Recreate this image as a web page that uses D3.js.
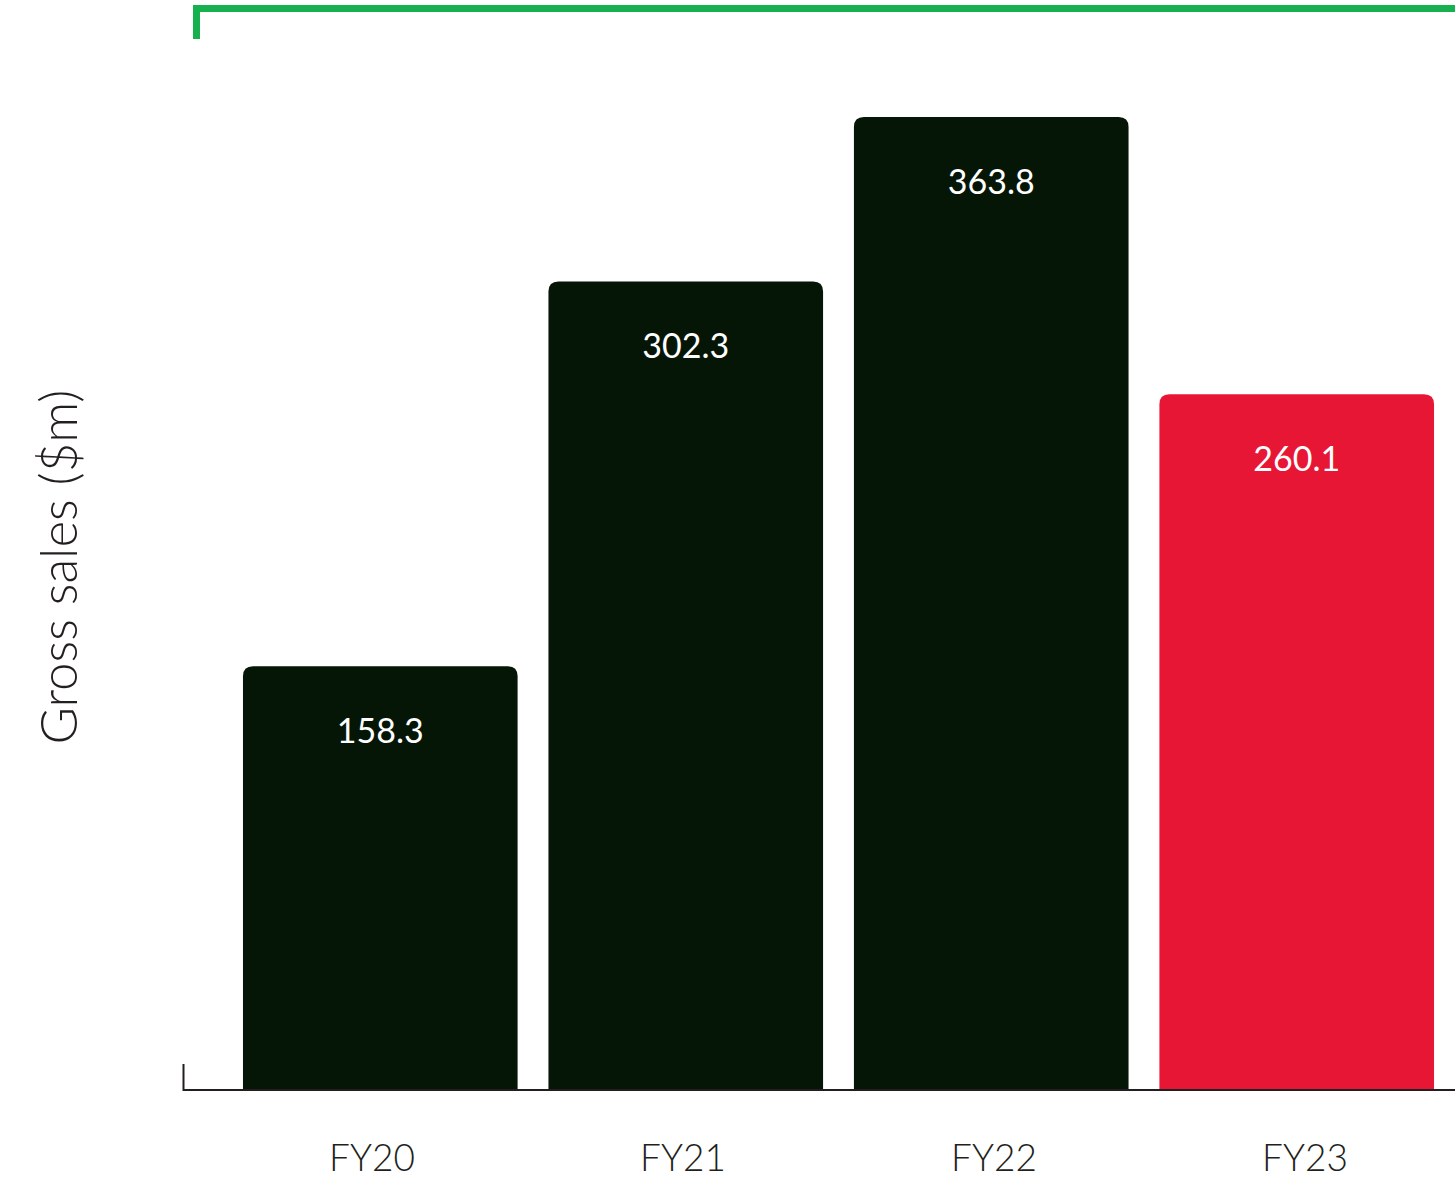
<!DOCTYPE html>
<html>
<head>
<meta charset="utf-8">
<script src="https://cdn.jsdelivr.net/npm/d3@7"></script>
<style>
  html, body { margin: 0; padding: 0; background: #ffffff; }
  svg { display: block; }
  text { font-family: Lato, "Noto Sans", sans-serif; }
</style>
</head>
<body>
<svg id="chart" width="1455" height="1183"></svg>
<script>
// Gross sales by financial year ($m)
const years = ["FY20", "FY21", "FY22", "FY23"];
const sales = [158.3, 302.3, 363.8, 260.1];
const barColors = ["#061606", "#061606", "#061606", "#E81635"];
const yTitle = "Gross sales ($m)";

const baseY = 1089.5;

const svg = d3.select("#chart");

const x = d3.scaleBand()
  .domain(years)
  .range([227.7, 1449.3])
  .paddingInner(0.101)
  .paddingOuter(0.05);

// axis labels sit on a slightly wider spacing than the bars
const xLabel = d3.scalePoint()
  .domain(years)
  .range([372, 1305]);

const y = d3.scaleLinear()
  .domain([0, 400])
  .range([baseY, baseY - 400 * 2.673]);

// green bracket across the top
svg.append("path")
  .attr("d", "M196.5,39 V8.5 H1455")
  .attr("fill", "none")
  .attr("stroke", "#17B04F")
  .attr("stroke-width", 7);

// bars with rounded top corners
const r = 10;
function barPath(x0, w, yTop, yBot) {
  return `M${x0},${yBot} V${yTop + r} Q${x0},${yTop} ${x0 + r},${yTop} H${x0 + w - r} Q${x0 + w},${yTop} ${x0 + w},${yTop + r} V${yBot} Z`;
}

svg.append("g")
  .selectAll("path")
  .data(years)
  .join("path")
  .attr("d", (d, i) => barPath(x(d), x.bandwidth(), y(sales[i]), baseY))
  .attr("fill", (d, i) => barColors[i]);

// value labels inside bars
svg.append("g")
  .selectAll("text")
  .data(years)
  .join("text")
  .attr("x", d => x(d) + x.bandwidth() / 2)
  .attr("y", (d, i) => y(sales[i]) + 77)
  .attr("text-anchor", "middle")
  .attr("fill", "#ffffff")
  .attr("font-size", 34)
  .text((d, i) => sales[i].toFixed(1));

// baseline with short left tick
svg.append("path")
  .attr("d", `M183.5,1064 V${baseY + 0.5} H1455`)
  .attr("fill", "none")
  .attr("stroke", "#231F20")
  .attr("stroke-width", 2);

// category labels
svg.append("g")
  .selectAll("text")
  .data(years)
  .join("text")
  .attr("x", d => xLabel(d))
  .attr("y", 1171)
  .attr("text-anchor", "middle")
  .attr("fill", "#231F20")
  .attr("font-size", 37)
  .attr("font-weight", 300)
  .text(d => d);

// y-axis title
svg.append("text")
  .attr("transform", "translate(77,567) rotate(-90)")
  .attr("text-anchor", "middle")
  .attr("fill", "#231F20")
  .attr("font-size", 51)
  .attr("font-weight", 300)
  .text(yTitle);
</script>
</body>
</html>
